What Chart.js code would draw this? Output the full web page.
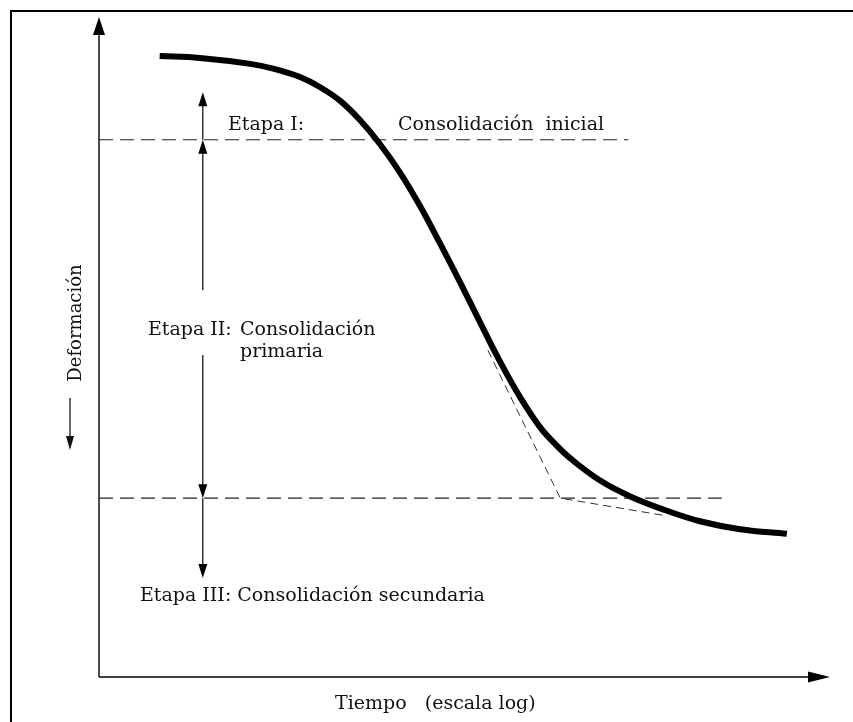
<!DOCTYPE html>
<html>
<head>
<meta charset="utf-8">
<script src="https://cdn.jsdelivr.net/npm/chart.js@4.4.0/dist/chart.umd.min.js"></script>
<style>
  html, body { margin: 0; padding: 0; background: #fff; }
  canvas { display: block; }
</style>
</head>
<body>
<canvas id="chart" width="853" height="722"></canvas>
<script>
// Curva de consolidación: tiempo (escala log, unidades arbitrarias) vs deformación
const tiempo = [0.83, 1.38, 2.07, 2.41, 2.75, 3.02, 3.30, 3.57, 3.84, 4.12, 4.39, 4.66,
                4.94, 5.21, 5.49, 5.76, 6.03, 6.24, 6.44, 6.85, 7.26, 7.74, 8.22, 8.77, 9.41];
const deformacion = [0.59, 0.62, 0.71, 0.79, 0.91, 1.06, 1.27, 1.56, 1.92, 2.36, 2.86, 3.42,
                     4.02, 4.62, 5.23, 5.76, 6.21, 6.47, 6.68, 7.02, 7.26, 7.47, 7.64, 7.76, 7.83];

// limits between stages (deformation) and how far the dashed lines run (time)
const limiteEtapa = [1.86, 7.29];
const finLinea = [7.24, 8.52];

// tangent construction for the end of primary consolidation
const tangenteX = [5.32, 6.31, 7.72];
const tangenteY = [5.05, 7.29, 7.55];

// vertical arrows (time position, and deformation values)
const flechaX = 1.42;
const flechaI = [1.86, 1.14];
const flechaII = [1.86, 7.29];
const huecoII = [4.14, 5.12];
const flechaIII = [7.29, 8.50];

const textos = {
  etapa1: "Etapa I:",
  cons1: "Consolidación  inicial",
  etapa2: "Etapa II:",
  cons2: "Consolidación",
  cons2b: "primaria",
  etapa3: "Etapa III: Consolidación secundaria",
  ejeX: "Tiempo\u00a0\u00a0\u00a0(escala log)",
  ejeY: "Deformación"
};

function head(ctx, x, y, dir, len, w) {
  ctx.beginPath();
  if (dir === "up") {
    ctx.moveTo(x, y); ctx.lineTo(x - w / 2, y + len); ctx.lineTo(x + w / 2, y + len);
  } else if (dir === "down") {
    ctx.moveTo(x, y); ctx.lineTo(x - w / 2, y - len); ctx.lineTo(x + w / 2, y - len);
  } else {
    ctx.moveTo(x, y); ctx.lineTo(x - len, y - w / 2); ctx.lineTo(x - len, y + w / 2);
  }
  ctx.closePath();
  ctx.fill();
}

function vline(ctx, x, y1, y2) {
  ctx.beginPath();
  ctx.moveTo(x, y1);
  ctx.lineTo(x, y2);
  ctx.stroke();
}

const dibujo = {
  id: "dibujo",
  beforeDatasetsDraw(chart) {
    const ctx = chart.ctx;
    const xs = chart.scales.x, ys = chart.scales.y;
    const x0 = xs.getPixelForValue(0), y0 = ys.getPixelForValue(10);
    const xEnd = xs.getPixelForValue(10), yEnd = ys.getPixelForValue(0);
    ctx.save();
    ctx.strokeStyle = "#000";
    ctx.fillStyle = "#000";
    // frame
    ctx.lineWidth = 2;
    ctx.beginPath();
    ctx.moveTo(11, chart.height);
    ctx.lineTo(11, 11);
    ctx.lineTo(chart.width, 11);
    ctx.stroke();
    // axes
    ctx.lineWidth = 1.4;
    vline(ctx, x0, y0, yEnd + 16);
    head(ctx, x0, yEnd, "up", 18, 12);
    ctx.beginPath();
    ctx.moveTo(x0, y0);
    ctx.lineTo(xEnd - 20, y0);
    ctx.stroke();
    head(ctx, xEnd, y0, "right", 22, 11);
    ctx.restore();
  },
  afterDatasetsDraw(chart) {
    const ctx = chart.ctx;
    const xs = chart.scales.x, ys = chart.scales.y;
    const px = xs.getPixelForValue(flechaX);
    ctx.save();
    ctx.strokeStyle = "#000";
    ctx.fillStyle = "#000";
    ctx.lineWidth = 1.2;
    // stage I arrow
    vline(ctx, px, ys.getPixelForValue(flechaI[0]), ys.getPixelForValue(flechaI[1]) + 12);
    head(ctx, px, ys.getPixelForValue(flechaI[1]), "up", 14, 9);
    // stage II arrow (broken around the label)
    const a = ys.getPixelForValue(flechaII[0]), b = ys.getPixelForValue(flechaII[1]);
    vline(ctx, px, a + 12, ys.getPixelForValue(huecoII[0]));
    vline(ctx, px, ys.getPixelForValue(huecoII[1]), b - 12);
    head(ctx, px, a, "up", 14, 9);
    head(ctx, px, b, "down", 14, 9);
    // stage III arrow
    const c = ys.getPixelForValue(flechaIII[1]);
    vline(ctx, px, ys.getPixelForValue(flechaIII[0]), c - 12);
    head(ctx, px, c, "down", 14, 9);

    // labels
    ctx.font = '19px "DejaVu Serif"';
    ctx.fillStyle = "#111";
    ctx.textBaseline = "alphabetic";
    ctx.textAlign = "left";
    ctx.fillText(textos.etapa1, 228, 130);
    ctx.fillText(textos.cons1, 398, 130);
    ctx.fillText(textos.etapa2, 148, 335);
    ctx.fillText(textos.cons2, 240, 335);
    ctx.fillText(textos.cons2b, 240, 357);
    ctx.fillText(textos.etapa3, 140, 601);
    ctx.fillText(textos.ejeX, 335, 709);

    // y axis title with arrow
    ctx.save();
    ctx.translate(76, 323);
    ctx.rotate(-Math.PI / 2);
    ctx.font = '18px "DejaVu Serif"';
    ctx.textAlign = "center";
    ctx.textBaseline = "middle";
    ctx.fillText(textos.ejeY, 0, 0);
    ctx.restore();
    ctx.lineWidth = 1.2;
    vline(ctx, 70, 398, 437);
    head(ctx, 70, 450, "down", 14, 8);
    ctx.restore();
  }
};

const puntos = (xs, ys) => xs.map((v, i) => ({ x: v, y: ys[i] }));

new Chart(document.getElementById("chart"), {
  type: "line",
  data: {
    datasets: [
      {
        data: puntos(tiempo, deformacion),
        borderColor: "#000",
        borderWidth: 6,
        borderCapStyle: "butt",
        borderJoinStyle: "round",
        tension: 0.4,
        pointRadius: 0
      },
      {
        data: puntos(tangenteX, tangenteY),
        borderColor: "#333",
        borderWidth: 1,
        borderDash: [8, 5],
        pointRadius: 0,
        tension: 0
      },
      {
        data: puntos([0, finLinea[0]], [limiteEtapa[0], limiteEtapa[0]]),
        borderColor: "#222",
        borderWidth: 1.2,
        borderDash: [14, 7],
        pointRadius: 0
      },
      {
        data: puntos([0, finLinea[1]], [limiteEtapa[1], limiteEtapa[1]]),
        borderColor: "#222",
        borderWidth: 1.2,
        borderDash: [14, 7],
        pointRadius: 0
      }
    ]
  },
  options: {
    responsive: false,
    animation: false,
    devicePixelRatio: 1,
    layout: { padding: { left: 99, right: 23, top: 17, bottom: 45 } },
    scales: {
      x: { type: "linear", min: 0, max: 10, display: false },
      y: { type: "linear", min: 0, max: 10, reverse: true, display: false }
    },
    plugins: {
      legend: { display: false },
      tooltip: { enabled: false }
    }
  },
  plugins: [dibujo]
});
</script>
</body>
</html>
